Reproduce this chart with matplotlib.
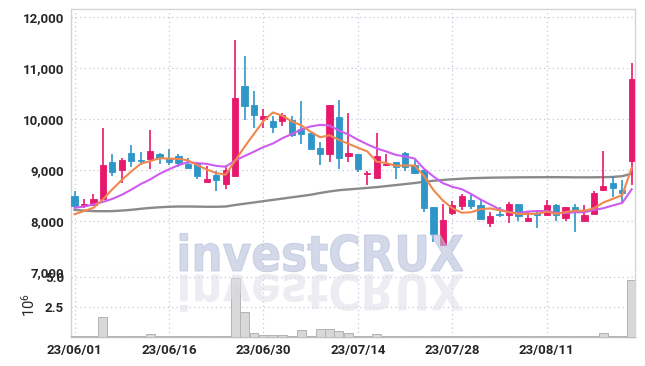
import matplotlib
matplotlib.use("Agg")
import matplotlib.pyplot as plt
from matplotlib.textpath import TextPath
from matplotlib.patches import PathPatch
from matplotlib.font_manager import FontProperties
from matplotlib.transforms import Affine2D, IdentityTransform
import numpy as np

plt.rcParams['font.family'] = ['Roboto', 'DejaVu Sans']
plt.rcParams['mathtext.default'] = 'regular'

# ---- data ----
tick_pos = [0, 10, 20, 30, 40, 50]
tick_labels = ['23/06/01', '23/06/16', '23/06/30', '23/07/14', '23/07/28', '23/08/11']

opens = [8500, 8300, 8310, 8440, 9160, 9000, 9330, 9210, 9230, 9320,
         9240, 9290, 9120, 9150, 8780, 8900, 8725, 8895, 10650, 10280,
         10010, 9975, 9975, 9990, 9810, 9730, 9430, 9315, 10040, 9290,
         9310, 8930, 8855, 9095, 9155, 9335, 9105, 9000, 8280, 7535,
         8170, 8305, 8420, 8320, 7960, 8150, 8120, 8340, 8005, 8150,
         8120, 8310, 8070, 8290, 8015, 8145, 8605, 8745, 8605, 9185]
highs = [8590, 8430, 8530, 9830, 9320, 9240, 9500, 9350, 9800, 9330,
         9420, 9320, 9250, 9170, 9085, 8990, 9100, 11555, 11240, 10550,
         10200, 10070, 10120, 10060, 10350, 9740, 9560, 10285, 10380, 10130,
         9315, 8995, 9725, 9320, 9160, 9365, 9230, 9010, 8280, 8335,
         8400, 8535, 8515, 8420, 8190, 8280, 8380, 8345, 8200, 8215,
         8410, 8345, 8290, 8345, 8310, 8590, 9375, 8880, 8815, 11100]
lows = [8280, 8260, 8300, 8430, 8880, 8750, 9065, 9110, 9030, 9130,
        9110, 9070, 9030, 8820, 8775, 8590, 8630, 8890, 9990, 9820,
        9820, 9725, 9870, 9660, 9510, 9420, 9110, 9170, 9020, 9170,
        8960, 8710, 8850, 9090, 8830, 8980, 8920, 8190, 7600, 7530,
        8125, 8220, 8240, 8045, 7880, 8080, 7970, 8015, 8000, 7870,
        8115, 8015, 8015, 7785, 8010, 8135, 8590, 8475, 8375, 8705]
closes = [8300, 8340, 8430, 9110, 8960, 9210, 9175, 9180, 9380, 9240,
          9170, 9150, 9045, 8895, 8820, 8815, 9000, 10410, 10260, 10090,
          10065, 9850, 10085, 9700, 9720, 9425, 9310, 10280, 9250, 9340,
          9035, 8945, 9275, 9125, 9060, 9070, 8940, 8255, 7750, 8025,
          8315, 8495, 8305, 8050, 8105, 8125, 8330, 8110, 8055, 8130,
          8310, 8125, 8285, 8195, 8115, 8560, 8685, 8650, 8555, 10800]

ma_short = [8140, 8200, 8265, 8430, 8628, 8810, 8977, 9127, 9181, 9237,
            9229, 9224, 9197, 9100, 9016, 8945, 8915, 9188, 9461, 9715,
            9965, 10135, 10070, 9958, 9884, 9756, 9648, 9687, 9597, 9521,
            9443, 9370, 9169, 9144, 9088, 9095, 9094, 8890, 8615, 8408,
            8257, 8168, 8178, 8238, 8254, 8216, 8183, 8144, 8145, 8150,
            8187, 8146, 8181, 8209, 8206, 8256, 8368, 8441, 8513, 9050]
ma_mid = [8265, 8290, 8330, 8380, 8440, 8520, 8620, 8730, 8820, 8932,
          9020, 9100, 9162, 9140, 9126, 9087, 9070, 9192, 9280, 9365,
          9455, 9525, 9629, 9710, 9800, 9860, 9891, 9878, 9778, 9702,
          9600, 9509, 9428, 9370, 9304, 9269, 9232, 9030, 8880, 8748,
          8676, 8631, 8534, 8426, 8331, 8236, 8175, 8161, 8191, 8202,
          8201, 8164, 8162, 8177, 8178, 8221, 8257, 8311, 8361, 8628]
ma_long = [8225, 8210, 8200, 8198, 8200, 8210, 8225, 8245, 8262, 8275,
           8285, 8290, 8290, 8288, 8285, 8285, 8290, 8320, 8345, 8370,
           8395, 8420, 8445, 8470, 8495, 8520, 8555, 8585, 8610, 8625,
           8640, 8655, 8670, 8690, 8710, 8730, 8750, 8775, 8795, 8810,
           8825, 8835, 8845, 8850, 8855, 8858, 8860, 8862, 8863, 8864,
           8865, 8865, 8864, 8862, 8862, 8863, 8865, 8870, 8885, 8935]

volume = [0.08, 0.02, 0.02, 1.64, 0.04, 0.03, 0.03, 0.04, 0.22, 0.03,
          0.02, 0.02, 0.02, 0.02, 0.02, 0.02, 0.03, 4.86, 2.03, 0.28,
          0.14, 0.14, 0.12, 0.08, 0.53, 0.08, 0.61, 0.61, 0.50, 0.28,
          0.08, 0.03, 0.19, 0.08, 0.04, 0.04, 0.05, 0.08, 0.08, 0.05,
          0.03, 0.03, 0.03, 0.02, 0.02, 0.02, 0.02, 0.02, 0.02, 0.02,
          0.02, 0.02, 0.02, 0.02, 0.02, 0.03, 0.28, 0.05, 0.05, 4.72]

UP = '#e8196c'
DOWN = '#2f96c8'
GRID = '#c3c9dd'
SPINE = '#d4d4d4'
TXT = '#262626'

W, H = 645, 366
fig = plt.figure(figsize=(W / 100, H / 100), dpi=100)
fig.patch.set_facecolor('white')

ax = fig.add_axes([71 / W, (H - 272.3) / H, 564 / W, 263.3 / H])
ax2 = fig.add_axes([71 / W, (H - 336.7) / H, 564 / W, 62.7 / H])

x = np.arange(len(closes))
o = np.array(opens); c = np.array(closes)
up = c >= o
colors = np.where(up, UP, DOWN)

ax.vlines(x, lows, highs, colors=colors, linewidth=1.2, zorder=3)
bottoms = np.minimum(o, c)
heights = np.maximum(np.abs(c - o), 25)
ax.bar(x, heights, bottom=bottoms, width=0.66, color=colors, edgecolor=colors,
       linewidth=0.6, zorder=4)

ax.plot(x, ma_long, color='#8a8a8a', linewidth=1.7, zorder=2)
ax.plot(x, ma_mid, color='#cf5cf0', linewidth=1.5, zorder=5)
ax.plot(x, ma_short, color='#f0884d', linewidth=1.5, zorder=5)

ax.set_xlim(-0.38, 59.35)
ax.set_ylim(7000, 12163)
ax.set_yticks([7000, 8000, 9000, 10000, 11000, 12000])
ax.set_yticklabels(['7,000', '8,000', '9,000', '10,000', '11,000', '12,000'])
ax.set_xticks(tick_pos)
ax.set_xticklabels([])

ax2.bar(x, volume, width=0.95, color='#d8d8d8', edgecolor='#b3b3b3', linewidth=0.7, zorder=3)
ax2.set_xlim(-0.38, 59.35)
ax2.set_ylim(0, 5.22)
ax2.set_yticks([2.5, 5.0])
ax2.set_yticklabels(['2.5', '5.0'])
ax2.set_xticks(tick_pos)
ax2.set_xticklabels(tick_labels)
ax2.set_ylabel(r'$10^6$', fontsize=10.5, color=TXT, labelpad=5)

for a in (ax, ax2):
    a.set_facecolor('none')
    a.grid(True, linestyle=(0, (1, 2.5)), color=GRID, linewidth=0.9, zorder=0)
    a.set_axisbelow(True)
    a.tick_params(length=0, pad=5, labelsize=9.5, labelcolor=TXT)
    for lab in a.get_yticklabels() + a.get_xticklabels():
        lab.set_fontweight('bold')
    for s in a.spines.values():
        s.set_color(SPINE)
        s.set_linewidth(1.0)
ax.spines['bottom'].set_visible(False)
ax2.spines['top'].set_visible(False)
ax2.spines['bottom'].set_color('#bdbdbd')
ax2.tick_params(axis='x', pad=5)

# watermark with reflection (pixel coordinates)
fp = FontProperties(family='DejaVu Sans', weight='bold')
tp = TextPath((0, 0), 'investCRUX', size=100, prop=fp)
ext = tp.get_extents()
tx0, tx1 = 180, 463
ybase = H - 271.7
ytop = H - 233.5
sx = (tx1 - tx0) / ext.width
sy = (ytop - ybase) / ext.height
tr = Affine2D().translate(-ext.x0, -ext.y0).scale(sx, sy).translate(tx0, ybase)
fig.patches.append(PathPatch(tr.transform_path(tp), facecolor='#b9c2dd', edgecolor='#b9c2dd',
                             linewidth=0.8, alpha=0.62, transform=IdentityTransform(), zorder=10))
tr2 = Affine2D().translate(-ext.x0, -ext.y0).scale(sx, -sy).translate(tx0, ybase - 2)
fig.patches.append(PathPatch(tr2.transform_path(tp), facecolor='#dedee8', edgecolor='none',
                             alpha=0.55, transform=IdentityTransform(), zorder=1))

fig.savefig('out.png', dpi=100)
